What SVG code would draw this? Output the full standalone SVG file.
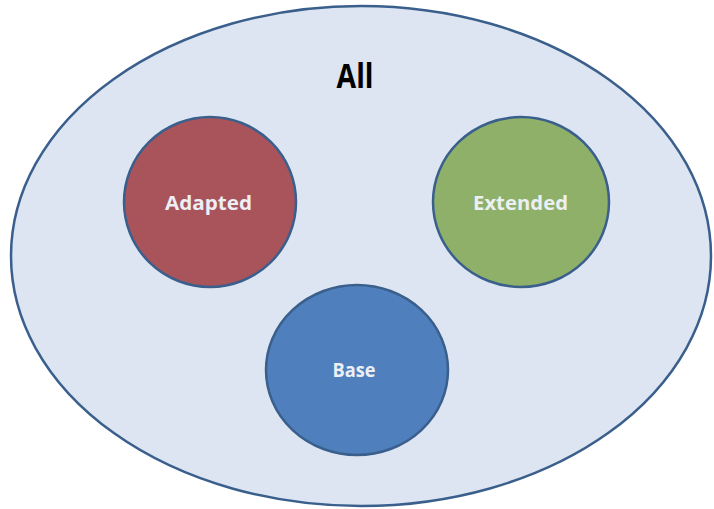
<svg xmlns="http://www.w3.org/2000/svg" width="714" height="509" viewBox="0 0 714 509">
<style>
.set{stroke:#3a5f8c;stroke-width:2.5}
.lbl{font-family:"Open Sans","Liberation Sans",sans-serif;font-weight:bold;font-size:20px;fill:#eceff4;text-anchor:middle}
.title{font-family:"Open Sans","Liberation Sans",sans-serif;font-weight:bold;font-size:34px;fill:#000;text-anchor:middle}
</style>
<rect width="714" height="509" fill="#ffffff"/>
<g id="all">
<ellipse class="set" cx="361" cy="256" rx="350" ry="250" fill="#dce5f1"/>
<text class="title" x="355" y="88" textLength="37" lengthAdjust="spacingAndGlyphs">All</text>
</g>
<g id="adapted">
<ellipse class="set" cx="210" cy="202" rx="86" ry="85" fill="#a9535b"/>
<text class="lbl" x="208.5" y="210" textLength="87" lengthAdjust="spacingAndGlyphs">Adapted</text>
</g>
<g id="extended">
<ellipse class="set" cx="521" cy="202" rx="88" ry="85" fill="#8eb068"/>
<text class="lbl" x="520.5" y="210" textLength="95" lengthAdjust="spacingAndGlyphs">Extended</text>
</g>
<g id="base">
<ellipse class="set" cx="357" cy="370" rx="91" ry="85" fill="#4f7fbc"/>
<text class="lbl" x="354" y="377" textLength="43" lengthAdjust="spacingAndGlyphs">Base</text>
</g>
<g id="connectors"></g>
</svg>
